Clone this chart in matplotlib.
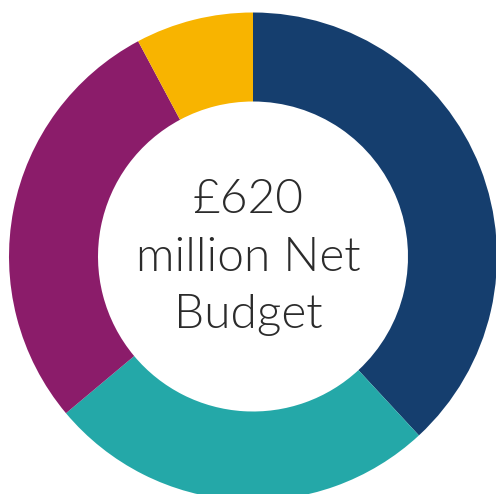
import matplotlib
matplotlib.use("Agg")
from matplotlib import pyplot as plt

# share of the net budget, clockwise from 12 o'clock
shares = [38.1, 25.8, 28.3, 7.8]
colors = ["#153e6e", "#24a8a8", "#8b1c6a", "#f8b400"]
center_lines = ["£620", "million Net", "Budget"]

fig = plt.figure(figsize=(4.96, 4.94), dpi=100)
ax = fig.add_axes([0, 0, 1, 1])

# donut, drawn in pixel coordinates of the figure
ax.pie(shares, colors=colors, startangle=90, counterclock=False,
       radius=244, center=(253, 494 - 256.5),
       wedgeprops=dict(width=89, linewidth=0))

ax.set_xlim(0, 496)
ax.set_ylim(0, 494)
ax.set_aspect("auto")
ax.axis("off")

baselines = [213, 270.7, 328]
for line, yb in zip(center_lines, baselines):
    ax.text(248, 494 - yb, line, ha="center", va="baseline",
            fontsize=34.5, family="Lato", fontweight=300, color="#2b2b2b")

fig.savefig("out.png", dpi=100)
